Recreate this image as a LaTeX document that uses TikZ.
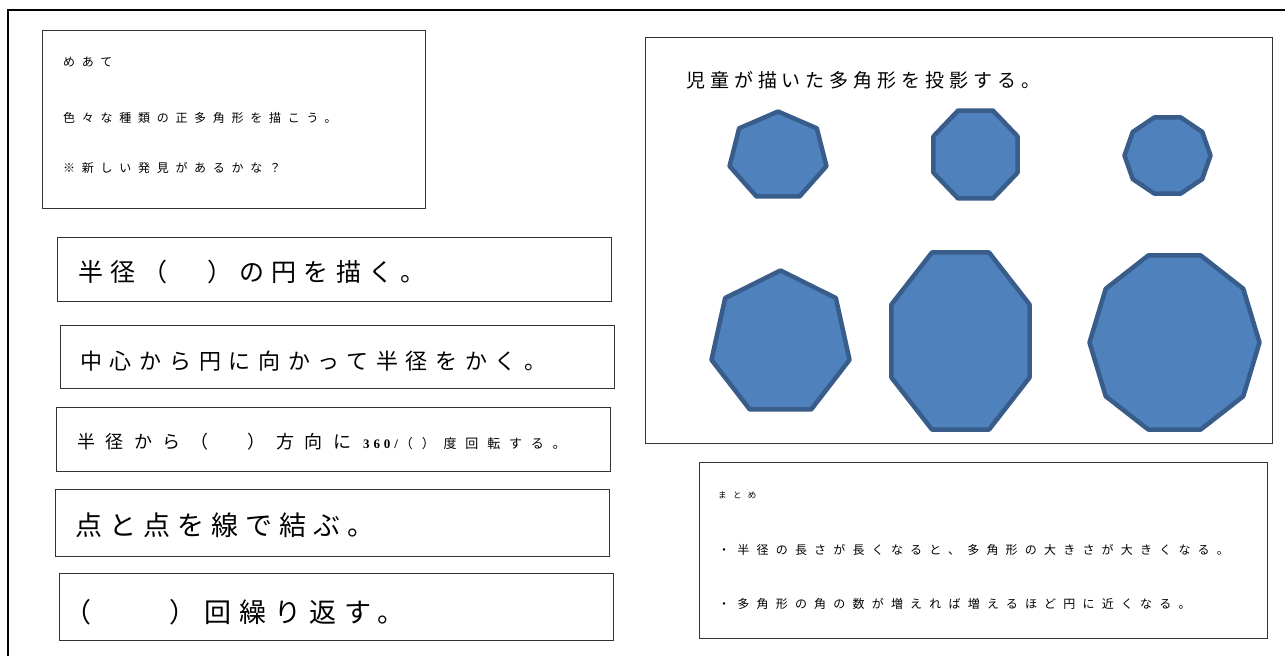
\documentclass[tikz,border=0pt]{standalone}
\usepackage{fontspec}
\setmainfont{Noto Sans CJK JP}
\newfontfamily\jpfont{Noto Sans CJK JP}
\newfontfamily\numfont{Liberation Serif}
\definecolor{polyfill}{HTML}{4F81BD}
\definecolor{polyline}{HTML}{385D8A}
% \jtext{size}{letterspace}{text}
\newcommand{\jtext}[3]{{\jpfont\fontsize{#1}{#1}\selectfont\addfontfeatures{LetterSpace=#2}#3}}
\begin{document}
\begin{tikzpicture}[x=1pt,y=-1pt,
  box/.style={draw=black!80, line width=1.3pt, inner sep=0pt, anchor=north west},
  txt/.style={anchor=west, inner sep=0pt},
  poly/.style={fill=polyfill, draw=polyline, line width=4.5pt, line join=round}]
\useasboundingbox (0,0) rectangle (1285,656);
\fill[white] (0,0) rectangle (1285,656);
\draw[line width=2pt] (8,656) -- (8,10) -- (1285,10);

% left column boxes
\node (meate) [box, minimum width=383pt, minimum height=178pt] at (42,30) {};
\node (t1) [txt] at (63,62) {\jtext{12}{56}{めあて}};
\node (t2) [txt] at (63,118) {\jtext{12}{56}{色々な種類の正多角形を描こう。}};
\node (t3) [txt] at (63,168) {\jtext{12}{56}{※新しい発見があるかな？}};

\node (b1) [box, minimum width=554pt, minimum height=64pt] at (57,237) {};
\node (s1) [txt] at (78,272) {\jtext{25}{29}{半径（　）の円を描く。}};

\node (b2) [box, minimum width=554pt, minimum height=63pt] at (60,325) {};
\node (s2) [txt] at (80,361) {\jtext{22}{35}{中心から円に向かって半径をかく。}};

\node (b3) [box, minimum width=554pt, minimum height=64pt] at (56,407) {};
\node (s3) [txt] at (77,442) {\jtext{18}{58}{半径から（　）方向に}\hspace{12pt}{\numfont\bfseries\fontsize{13}{13}\selectfont\addfontfeatures{LetterSpace=30}360/}\hspace{2pt}\jtext{13}{68}{（）度回転する。}};

\node (b4) [box, minimum width=554pt, minimum height=67pt] at (55,489) {};
\node (s4) [txt] at (75,525) {\jtext{27}{26}{点と点を線で結ぶ。}};

\node (b5) [box, minimum width=554pt, minimum height=67pt] at (59,573) {};
\node (s5) [txt] at (64,612) {\jtext{27}{30}{（　　）回繰り返す。}};

% right top: projection
\node (proj) [box, minimum width=627pt, minimum height=406pt] at (645,37) {};
\node (title) [txt] at (686,80) {\jtext{19}{26}{児童が描いた多角形を投影する。}};

% small row
\draw[poly] plot[variable=\t, samples=8, domain=0:360] ({778+49.7*cos(\t-90)},{156.2+44.7*sin(\t-90)}) -- cycle;
\draw[poly] plot[variable=\t, samples=9, domain=0:360] ({975.5+45.5*cos(\t+22.5)},{154.5+47.6*sin(\t+22.5)}) -- cycle;
\draw[poly] plot[variable=\t, samples=11, domain=0:360] ({1167.5+43*cos(\t)},{155.5+40*sin(\t)}) -- cycle;
% big row
\draw[poly] plot[variable=\t, samples=8, domain=0:360] ({780.5+70.8*cos(\t-90)},{343.6+73.1*sin(\t-90)}) -- cycle;
\draw[poly] plot[variable=\t, samples=9, domain=0:360] ({960.5+74.7*cos(\t+22.5)},{341+95.8*sin(\t+22.5)}) -- cycle;
\draw[poly] plot[variable=\t, samples=11, domain=0:360] ({1174.5+85*cos(\t)},{342.5+91.5*sin(\t)}) -- cycle;

% summary box
\node (sum) [box, minimum width=568pt, minimum height=176pt] at (699,462) {};
\node (m0) [txt] at (718,495) {\jtext{8.5}{75}{まとめ}};
\node (m1) [txt] at (718,550) {\jtext{12}{60}{・半径の長さが長くなると、多角形の大きさが大きくなる。}};
\node (m2) [txt] at (718,604) {\jtext{12}{60}{・多角形の角の数が増えれば増えるほど円に近くなる。}};
\end{tikzpicture}
\end{document}
